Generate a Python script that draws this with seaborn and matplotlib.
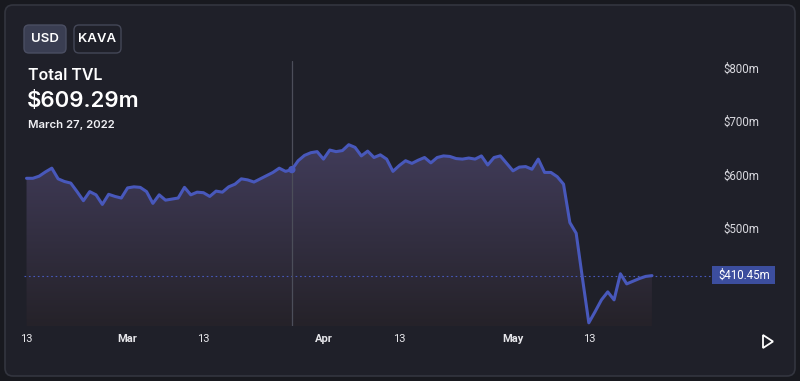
import numpy as np
import pandas as pd
import matplotlib
matplotlib.use("Agg")
import matplotlib.pyplot as plt
import matplotlib.dates as mdates
from matplotlib.patches import FancyBboxPatch, Polygon, Rectangle
from matplotlib.transforms import Affine2D
from matplotlib.colors import to_rgb
import seaborn as sns

# ---------------- data ----------------
start_date = "2022-02-13"
tvl_musd = [
    593, 593, 597, 605, 612, 592, 587, 584, 568, 551,
    568, 562, 544, 563, 559, 556, 575, 577, 576, 568,
    546, 562, 552, 554, 556, 576, 562, 567, 566, 559,
    569, 567, 577, 582, 592, 590, 586, 592, 598, 604,
    612, 606, 609.29, 626, 636, 641, 643, 629, 646, 643,
    645, 656, 651, 635, 644, 632, 637, 629, 606, 617,
    626, 621, 627, 632, 622, 632, 635, 634, 630, 629,
    631, 629, 635, 618, 632, 635, 621, 607, 614, 615,
    610, 629, 604, 604, 596, 582, 510, 490, 405, 322,
    343, 365, 380, 365, 414, 395, 400, 405, 409, 410.45,
]
dates = pd.date_range(start_date, periods=len(tvl_musd), freq="D")
tick_dates = ["2022-02-13", "2022-03-01", "2022-03-13", "2022-04-01",
              "2022-04-13", "2022-05-01", "2022-05-13"]
tick_labels = ["13", "Mar", "13", "Apr", "13", "May", "13"]
ytick_vals = [500, 600, 700, 800]
ytick_labels = ["$500m", "$600m", "$700m", "$800m"]
selected_date = "2022-03-27"
selected_value = 609.29
last_value = 410.45
buttons = ["USD", "KAVA"]
title = "Total TVL"
headline = "$609.29m"
subtitle = "March 27, 2022"

df = pd.DataFrame({"date": dates, "tvl": tvl_musd})

# ---------------- style ----------------
sns.set_theme(style="dark")
plt.rcParams["font.family"] = ["Inter", "DejaVu Sans"]

W, H = 800, 381
BG_OUT = "#18191f"
BG_CARD = "#1f2029"
LINE = "#4858bb"
TICK_FONT = ["Liberation Sans Narrow", "Roboto", "DejaVu Sans"]

fig = plt.figure(figsize=(W / 100, H / 100), dpi=100)
fig.patch.set_facecolor(BG_OUT)
PX = Affine2D().scale(1 / W, 1 / H) + fig.transFigure


def py(y):
    return H - y


card = FancyBboxPatch((5, py(376)), 790, 371,
                      boxstyle="round,pad=0,rounding_size=8",
                      transform=PX, facecolor=BG_CARD, edgecolor="#33353f",
                      linewidth=1.2, zorder=-10)
fig.patches.append(card)

# axes placement (pixels)
L, R, T, B = 24, 712, 61, 326
ax = fig.add_axes([L / W, (H - B) / H, (R - L) / W, (B - T) / H])
ax.set_facecolor("none")
ymin, ymax = 316, 813

x_num = mdates.date2num(dates)
x0 = x_num[0] - 0.4
x1 = x_num[0] + 108.5

# gradient fill under line
poly = ax.fill_between(x_num, tvl_musd, ymin, color="none", lw=0)
top_c = np.array(to_rgb("#413c5a"))
bot_c = np.array(to_rgb("#252229"))
g = np.linspace(0, 1, 256)[:, None]
img = bot_c[None, None, :] * (1 - g[..., None]) + top_c[None, None, :] * g[..., None]
img = np.repeat(img, 2, axis=1)
im = ax.imshow(img, extent=[x0, x1, ymin, max(tvl_musd)], origin="lower",
               aspect="auto", zorder=1, interpolation="bilinear")
im.set_clip_path(poly.get_paths()[0], transform=ax.transData)

df["x"] = x_num
sns.lineplot(data=df, x="x", y="tvl", ax=ax, color=LINE, linewidth=2.2, zorder=3)

# price line
ax.axhline(last_value, color=LINE, lw=0.8, ls=(0, (1.5, 2.5)), zorder=2)
# crosshair
sel_x = mdates.date2num(pd.Timestamp(selected_date))
ax.axvline(sel_x, color="#4c4e5a", lw=0.9, zorder=2)
ax.scatter([sel_x], [selected_value], s=28, color=LINE, zorder=4, edgecolor="none")

ax.set_xlim(x0, x1)
ax.set_ylim(ymin, ymax)
for s in ax.spines.values():
    s.set_visible(False)
ax.grid(False)
ax.set_xlabel("")
ax.set_ylabel("")

ax.set_xticks(mdates.date2num(pd.to_datetime(tick_dates)))
ax.set_xticklabels(tick_labels)
for lab in ax.get_xticklabels():
    lab.set_family(TICK_FONT)
    lab.set_fontsize(8)
    lab.set_color("#e6e6ea")
    if lab.get_text() != "13":
        lab.set_fontweight("bold")
ax.tick_params(axis="x", length=0, pad=6)

ax.yaxis.tick_right()
ax.set_yticks(ytick_vals)
ax.set_yticklabels(ytick_labels)
for lab in ax.get_yticklabels():
    lab.set_family(TICK_FONT)
    lab.set_fontsize(8.3)
    lab.set_color("#d8d8de")
ax.tick_params(axis="y", length=0, pad=8)

# last value label
fig.patches.append(Rectangle((712, py(284)), 63, 18, transform=PX,
                             facecolor="#3c4e9e", edgecolor="none", zorder=5))
fig.text(744, py(275.5), f"${last_value:.2f}m", transform=PX, ha="center", va="center",
         color="white", fontsize=8.3, family=TICK_FONT, zorder=6)

# buttons
fig.patches.append(FancyBboxPatch((24, py(53)), 42, 28,
                                  boxstyle="round,pad=0,rounding_size=5", transform=PX,
                                  facecolor="#3a3e52", edgecolor="#4a4e62", lw=1, zorder=2))
fig.patches.append(FancyBboxPatch((74, py(53)), 47, 28,
                                  boxstyle="round,pad=0,rounding_size=5", transform=PX,
                                  facecolor=BG_CARD, edgecolor="#444757", lw=1, zorder=2))
fig.text(45, py(39.5), buttons[0], transform=PX, ha="center", va="center",
         color="white", fontsize=9.5, fontweight="semibold")
fig.text(97.5, py(39.5), buttons[1], transform=PX, ha="center", va="center",
         color="white", fontsize=9.5, fontweight="semibold")

fig.text(28, py(75), title, transform=PX, ha="left", va="center",
         color="white", fontsize=11.5, fontweight="semibold")
fig.text(27, py(101), headline, transform=PX, ha="left", va="center",
         color="white", fontsize=16, fontweight="semibold")
fig.text(28, py(125), subtitle, transform=PX, ha="left", va="center",
         color="#f0f0f4", fontsize=8.2, fontweight="semibold")

# play triangle
fig.patches.append(Polygon([(763, py(335)), (763, py(348)), (773, py(341.5))],
                           closed=True, transform=PX, facecolor="none",
                           edgecolor="white", lw=1.3, zorder=3))

fig.savefig("out.png", dpi=100, facecolor=fig.get_facecolor())
